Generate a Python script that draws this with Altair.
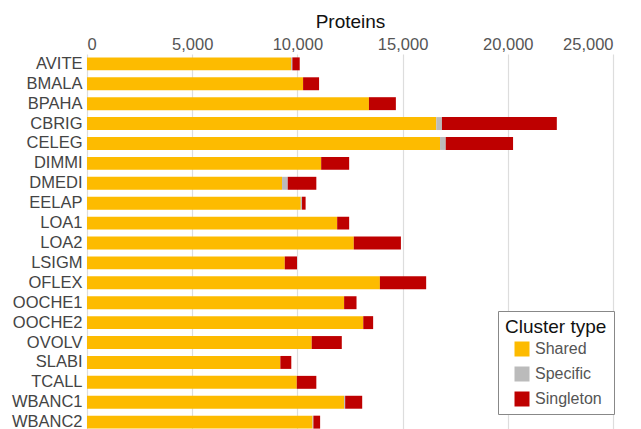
import altair as alt
import pandas as pd

species = ["AVITE", "BMALA", "BPAHA", "CBRIG", "CELEG", "DIMMI", "DMEDI", "EELAP",
           "LOA1", "LOA2", "LSIGM", "OFLEX", "OOCHE1", "OOCHE2", "OVOLV", "SLABI",
           "TCALL", "WBANC1", "WBANC2"]
shared = [9700, 10270, 13400, 16600, 16780, 11130, 9270, 10160,
          11890, 12680, 9400, 13920, 12220, 13130, 10680, 9190,
          9970, 12220, 10720]
specific = [60, 0, 0, 270, 270, 0, 270, 60,
            0, 0, 0, 0, 0, 0, 0, 0,
            0, 50, 40]
singleton = [350, 760, 1280, 5460, 3200, 1330, 1360, 170,
             570, 2240, 580, 2200, 590, 470, 1430, 520,
             930, 810, 320]

types = ["Shared", "Specific", "Singleton"]
colors = ["#FDBB00", "#BBBBBB", "#BE0000"]
tick_values = [0, 5000, 10000, 15000, 20000, 25000]

rows = []
for i, sp in enumerate(species):
    for k, (t, vals) in enumerate(zip(types, [shared, specific, singleton])):
        rows.append({"species": sp, "type": t, "value": vals[i], "order": k})
df = pd.DataFrame(rows)

FONT = "Liberation Sans"

chart = alt.Chart(df).mark_bar().encode(
    x=alt.X("value:Q", stack="zero",
            scale=alt.Scale(domain=[0, 25000], nice=False),
            axis=alt.Axis(orient="top", title="Proteins", values=tick_values,
                          format=",.0f", grid=True, gridColor="#dddddd", gridWidth=1.2,
                          domain=False, ticks=False, labelFontSize=16.5, labelColor="#555555",
                          labelPadding=2, titleFontSize=19, titleFontWeight="normal",
                          titleColor="#111111", titlePadding=5, labelFont=FONT, titleFont=FONT)),
    y=alt.Y("species:N", sort=species,
            scale=alt.Scale(paddingInner=0.35, paddingOuter=0.17),
            axis=alt.Axis(title=None, ticks=False, domain=False, labelFontSize=16.5,
                          labelColor="#444444", labelPadding=5, labelFont=FONT)),
    color=alt.Color("type:N", sort=types,
                    scale=alt.Scale(domain=types, range=colors),
                    legend=alt.Legend(title="Cluster type", orient="none", legendX=411, legendY=257,
                                      padding=7, strokeColor="#888888", fillColor="white",
                                      titleFontSize=19, titleFontWeight="normal", titleColor="#111111",
                                      titleFont=FONT, labelFont=FONT, labelFontSize=16,
                                      labelColor="#555555", symbolType="square", symbolSize=225,
                                      symbolStrokeWidth=0, symbolOffset=9, rowPadding=9,
                                      labelOffset=5, titlePadding=4)),
    order=alt.Order("order:Q"),
).properties(
    width=526, height=378,
    padding={"left": 3, "top": 4, "right": 0, "bottom": 0},
).configure_view(stroke=None)

chart.save("out.html", embed_options={"renderer": "svg", "actions": False})
